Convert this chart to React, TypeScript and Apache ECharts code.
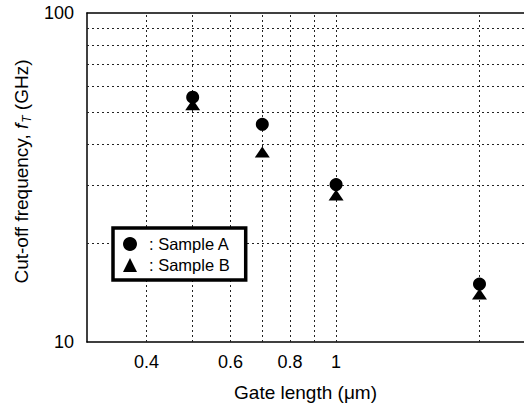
import React, { useEffect, useRef } from "react";
import * as echarts from "echarts";

const gateLengths = [0.5, 0.7, 1, 2];
const sampleA = [55.5, 45.9, 30.1, 15.0];
const sampleB = [52.6, 37.8, 28.0, 14.0];
const xGridValues = [0.4, 0.5, 0.6, 0.7, 0.8, 0.9, 1, 2];
const xTickLabels = ["0.4", "0.6", "0.8", "1"];
const yGridValues = [20, 30, 40, 50, 60, 70, 80, 90];

const FONT = "'Liberation Sans', Arial, Helvetica, sans-serif";

export default function App() {
  const ref = useRef<HTMLDivElement>(null);
  useEffect(() => {
    if (!ref.current) return;
    const chart = echarts.init(ref.current, undefined, { renderer: "svg" });
    const gridStyle = { color: "#222", width: 1, type: [2, 3] as any };
    const markLineData: any[] = [];
    xGridValues.forEach((v) => {
      const lbl = xTickLabels.find((t) => parseFloat(t) === v);
      markLineData.push({
        xAxis: v,
        label: lbl
          ? { show: true, formatter: lbl, position: "start", distance: 11, fontSize: 18, color: "#000", fontFamily: FONT }
          : { show: false },
      });
    });
    yGridValues.forEach((v) => markLineData.push({ yAxis: v, label: { show: false } }));

    chart.setOption({
      animation: false,
      textStyle: { fontFamily: FONT },
      grid: { left: 87, top: 13, right: 0, bottom: 67 },
      legend: {
        orient: "vertical",
        left: 113,
        top: 228,
        padding: [7, 16, 6, 10],
        borderColor: "#000",
        borderWidth: 3.5,
        backgroundColor: "#fff",
        itemGap: 3,
        itemWidth: 14,
        itemHeight: 14,
        z: 10,
        formatter: (n: string) => ": " + n,
        textStyle: { fontSize: 16.5, color: "#000", fontFamily: FONT, padding: [0, 0, 0, 7], lineHeight: 18 },
        data: ["Sample A", "Sample B"],
      },
      xAxis: [
        {
          type: "log",
          min: 0.3,
          max: 2.48,
          name: "Gate length (μm)",
          nameLocation: "middle",
          nameGap: 41,
          nameTextStyle: { fontSize: 19, color: "#000", fontFamily: FONT },
          axisLine: { show: true, lineStyle: { color: "#000", width: 1.5 } },
          axisTick: { show: false },
          axisLabel: { show: false },
          splitLine: { show: false },
          minorSplitLine: { show: false },
        },
        {
          type: "log",
          position: "top",
          min: 0.3,
          max: 2.48,
          axisLine: { show: true, lineStyle: { color: "#000", width: 1.5 } },
          axisTick: { show: false },
          axisLabel: { show: false },
          splitLine: { show: false },
        },
      ],
      yAxis: {
        type: "log",
        min: 10,
        max: 100,
        name: "{a|Cut-off frequency, }{i|f}{s|T}{a| (GHz)}",
        nameLocation: "middle",
        nameRotate: 90,
        nameGap: 50,
        nameTextStyle: {
          fontSize: 19,
          color: "#000",
          fontFamily: FONT,
          padding: [0, 0, 0, 12],
          rich: {
            a: { fontSize: 19, color: "#000", fontFamily: FONT, lineHeight: 22, verticalAlign: "bottom", padding: [0, 0, 2, 0] },
            i: { fontSize: 19, color: "#000", fontFamily: FONT, fontStyle: "italic", lineHeight: 22, verticalAlign: "bottom", padding: [0, 0, 2, 0] },
            s: { fontSize: 12, color: "#000", fontFamily: FONT, fontStyle: "italic", lineHeight: 12, verticalAlign: "bottom", padding: [0, 0, 0, 1] },
          },
        },
        axisLine: { show: true, lineStyle: { color: "#000", width: 1.5 } },
        axisTick: { show: false },
        axisLabel: { fontSize: 18, color: "#000", margin: 13, fontFamily: FONT },
        splitLine: { show: false },
      },
      series: [
        {
          name: "Sample A",
          type: "scatter",
          symbol: "circle",
          symbolSize: 13,
          itemStyle: { color: "#000", opacity: 1 },
          data: gateLengths.map((x, i) => [x, sampleA[i]]),
          z: 5,
          markLine: {
            silent: true,
            symbol: ["none", "none"],
            lineStyle: gridStyle,
            label: { show: false },
            emphasis: { disabled: true },
            data: markLineData,
            z: 1,
          },
        },
        {
          name: "Sample B",
          type: "scatter",
          symbol: "triangle",
          symbolSize: [15, 11],
          itemStyle: { color: "#000", opacity: 1 },
          data: gateLengths.map((x, i) => [x, sampleB[i]]),
          z: 6,
        },
      ],
    });
    return () => chart.dispose();
  }, []);
  return <div ref={ref} style={{ position: "absolute", left: 0, top: 0, width: 524, height: 409 }} />;
}
